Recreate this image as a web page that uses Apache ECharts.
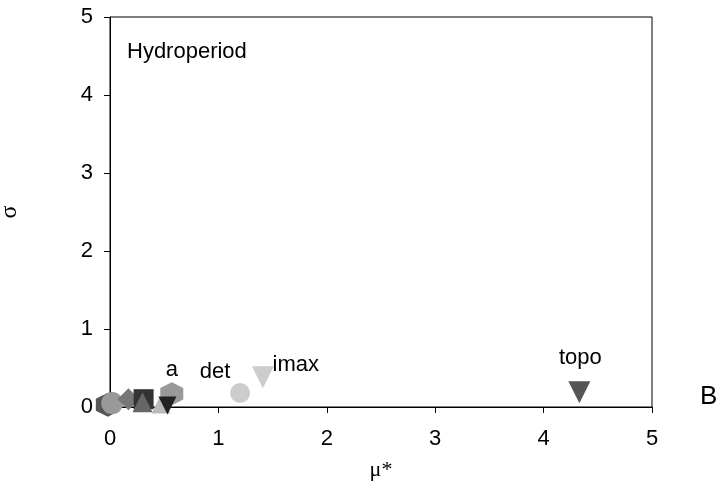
<!DOCTYPE html>
<html><head><meta charset="utf-8">
<script src="https://cdn.jsdelivr.net/npm/echarts@6/dist/echarts.min.js"></script>
<style>html,body{margin:0;padding:0;background:#fff}#c{width:725px;height:489px}</style>
</head><body><div id="c"></div>
<script>
// data (drawing order)
const names = ["p1","p2","p3","p4","p5","a","p6","p7","det","imax","topo"];
const xs    = [-0.02, 0.02, 0.17, 0.31, 0.30, 0.57, 0.47, 0.53, 1.20, 1.41, 4.33];
const ys    = [ 0.03, 0.05, 0.10, 0.10, 0.06, 0.17, 0.04, 0.02, 0.18, 0.38, 0.19];
const labels= ["","","","","","a","","","det","imax","topo"];
const xTicks = [0,1,2,3,4,5];
const yTicks = [0,1,2,3,4,5];

const HEX = 'path://M25,0 L75,0 L100,50 L75,100 L25,100 L0,50 Z';
const styles = {
  p1:{symbol:HEX,size:24,color:'#555555',rot:90},
  p2:{symbol:'circle',size:22,color:'#999999',rot:0},
  p3:{symbol:'diamond',size:22,color:'#777777',rot:0},
  p4:{symbol:'rect',size:20,color:'#333333',rot:0},
  p5:{symbol:'triangle',size:20,color:'#666666',rot:0},
  a:{symbol:HEX,size:23,color:'#999999',rot:90,lab:[0,-24]},
  p6:{symbol:'triangle',size:19,color:'#bbbbbb',rot:0},
  p7:{symbol:'triangle',size:18,color:'#222222',rot:180},
  det:{symbol:'circle',size:20,color:'#cccccc',rot:0,lab:[-25,-21]},
  imax:{symbol:'triangle',size:22,color:'#cccccc',rot:180,lab:[33,-12]},
  topo:{symbol:'triangle',size:22,color:'#555555',rot:180,lab:[1,-34]}
};

const FONT = 'Liberation Sans';
const series = names.map((n,i)=>{
  const s = styles[n];
  return {
    type:'scatter', name:n, clip:false, z:2+i,
    symbol:s.symbol, symbolSize:s.size, symbolRotate:s.rot,
    itemStyle:{color:s.color, opacity:1},
    data:[[xs[i],ys[i]]],
    label:{show:!!labels[i], formatter:labels[i], position:'inside',
      offset:s.lab||[0,0], color:'#000', fontSize:22, fontFamily:FONT},
    emphasis:{disabled:true}
  };
});

const chart = echarts.init(document.getElementById('c'), null, {renderer:'canvas'});
chart.setOption({
  animation:false,
  backgroundColor:'#fff',
  grid:{left:110, top:17, right:73, bottom:82, containLabel:false, outerBoundsMode:'none',
    show:true, borderColor:'#000', borderWidth:1, backgroundColor:'transparent'},
  xAxis:{type:'value', min:xTicks[0], max:xTicks[xTicks.length-1], interval:1,
    name:'μ*', nameLocation:'middle', nameGap:52,
    nameTextStyle:{fontSize:22, fontFamily:'Liberation Serif', color:'#000'},
    axisLine:{lineStyle:{color:'#000'}}, axisTick:{inside:false, length:6, lineStyle:{color:'#000'}},
    axisLabel:{fontSize:22, color:'#000', fontFamily:FONT, margin:21}, splitLine:{show:false}},
  yAxis:{type:'value', min:yTicks[0], max:yTicks[yTicks.length-1], interval:1,
    name:'σ', nameLocation:'middle', nameGap:88, nameRotate:90,
    nameTextStyle:{fontSize:24, fontFamily:'Liberation Serif', color:'#000'},
    axisLine:{lineStyle:{color:'#000'}}, axisTick:{inside:false, length:6, lineStyle:{color:'#000'}},
    axisLabel:{fontSize:22, color:'#000', fontFamily:FONT, margin:17}, splitLine:{show:false}},
  graphic:[
    {type:'text', left:127, top:41, style:{text:'Hydroperiod', fontSize:22, fontFamily:FONT, fill:'#000'}},
    {type:'text', left:700, top:384, style:{text:'B', fontSize:26, fontFamily:FONT, fill:'#000'}}
  ],
  series:series
});
</script></body></html>
